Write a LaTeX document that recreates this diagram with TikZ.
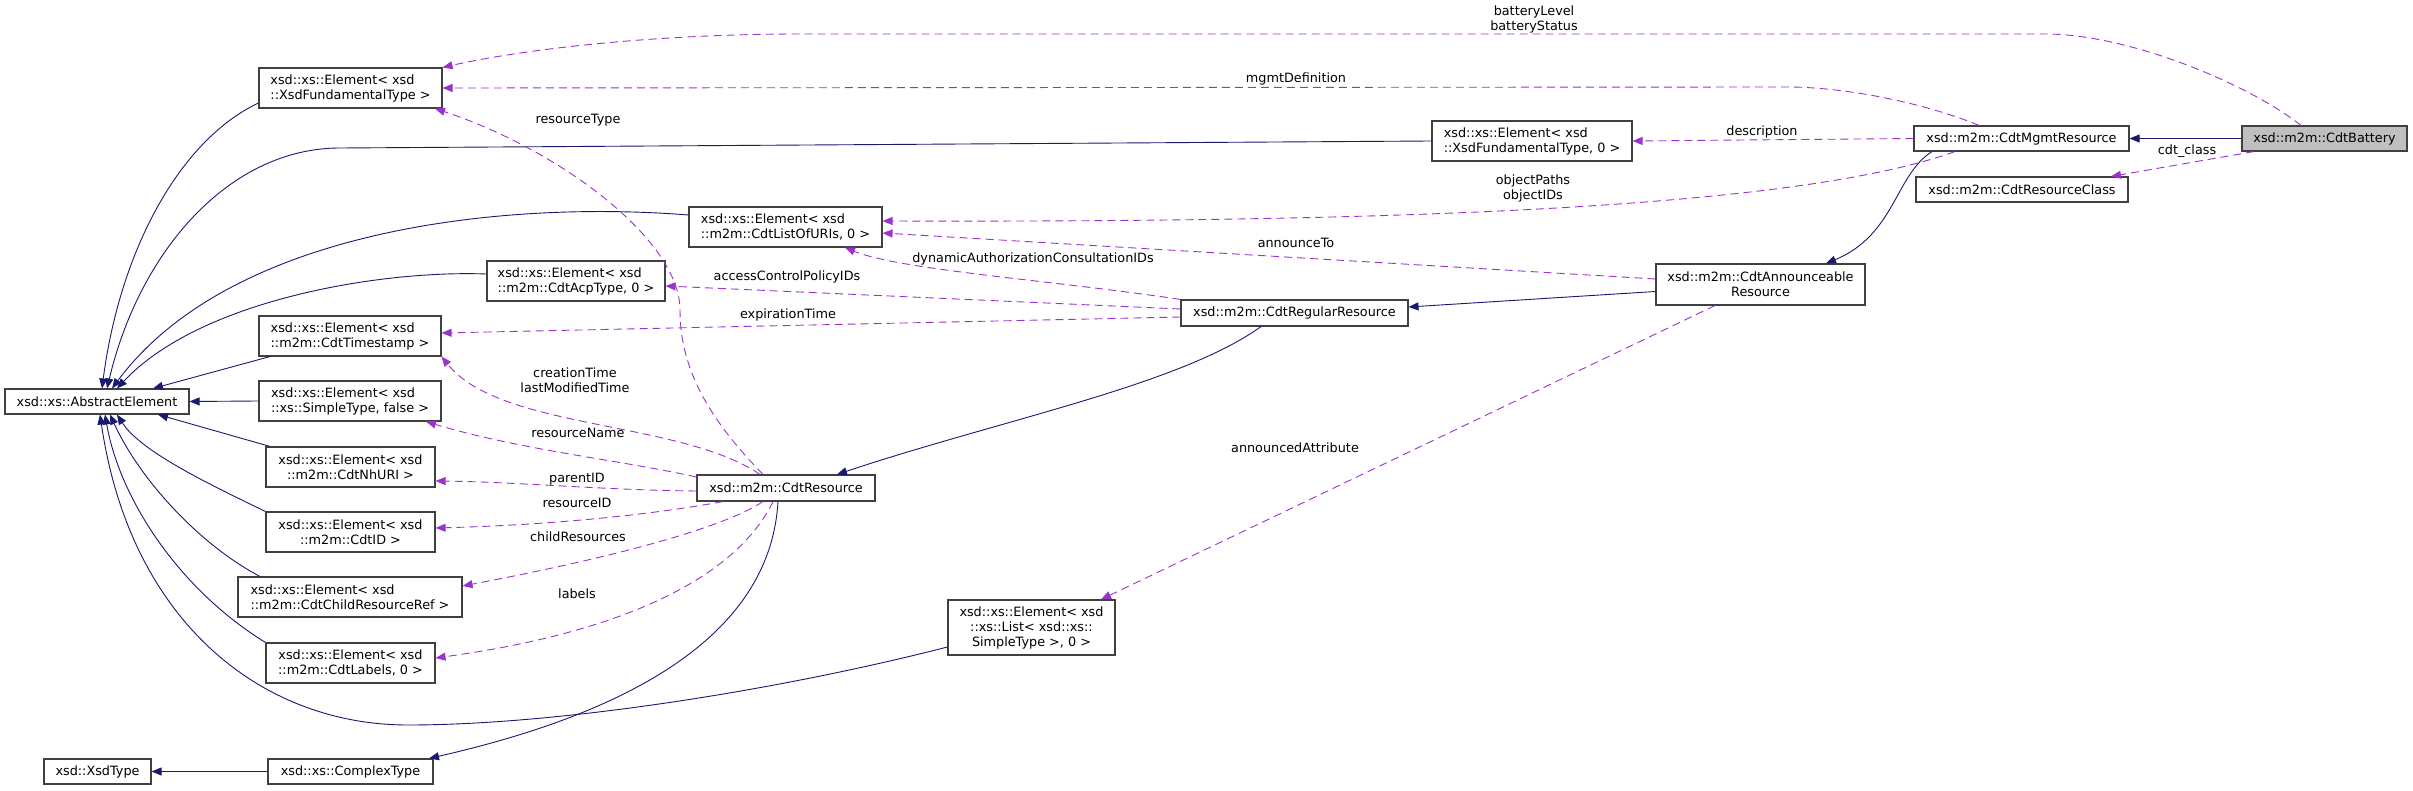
\documentclass[tikz,border=0pt]{standalone}
\usepackage{fontspec}
\setmainfont{DejaVu Sans}
\usetikzlibrary{arrows.meta}
\definecolor{boxline}{HTML}{404040}
\definecolor{inherit}{HTML}{191970}
\definecolor{member}{HTML}{9A32CD}
\definecolor{focus}{HTML}{BFBFBF}
\newcommand{\cls}[6][]{%
  \node[draw=boxline,line width=1.1pt,fill=white,inner sep=0pt,
        minimum width=#4pt,minimum height=#5pt,align=center,
        font=\fontsize{12.8}{15}\selectfont,#1]
       (#2) at #3 {#6};}

\begin{document}
\begin{tikzpicture}[x=1pt,y=-1pt]
  \useasboundingbox (0,0) rectangle (2413,791);

  % The class and what it derives from.
  \cls[fill=focus]{battery}{(2324.5,138.5)}{165}{25}{xsd::m2m::CdtBattery}
  \cls{mgmt}{(2021.5,138.5)}{215}{25}{xsd::m2m::CdtMgmtResource}
  \cls{resclass}{(2022,189.5)}{212}{25}{xsd::m2m::CdtResourceClass}
  \cls{announce}{(1760.5,284.5)}{209}{41}{xsd::m2m::CdtAnnounceable\\Resource}
  \cls{regular}{(1294.5,313)}{227}{26}{xsd::m2m::CdtRegularResource}
  \cls{resource}{(786,488)}{178}{26}{xsd::m2m::CdtResource}
  \cls{complex}{(350.5,771.5)}{165}{25}{xsd::xs::ComplexType}
  \cls{xsdtype}{(97.5,771.5)}{107}{25}{xsd::XsdType}
  % Element templates
  \cls[align=left]{xsdfund0}{(1532,141)}{200}{40}{xsd::xs::Element< xsd\\::XsdFundamentalType, 0 >}
  \cls{list}{(1031.5,627.5)}{167}{55}{xsd::xs::Element< xsd\\::xs::List< xsd::xs::\\SimpleType >, 0 >}
  \cls[align=left]{listuris}{(785.5,227)}{193}{40}{xsd::xs::Element< xsd\\::m2m::CdtListOfURIs, 0 >}
  \cls[align=left]{acp}{(576,281)}{178}{40}{xsd::xs::Element< xsd\\::m2m::CdtAcpType, 0 >}
  \cls[align=left]{xsdfund}{(350.5,88)}{183}{40}{xsd::xs::Element< xsd\\::XsdFundamentalType >}
  \cls[align=left]{timestamp}{(350,336)}{182}{40}{xsd::xs::Element< xsd\\::m2m::CdtTimestamp >}
  \cls[align=left]{simple}{(350,401)}{182}{40}{xsd::xs::Element< xsd\\::xs::SimpleType, false >}
  \cls{nhuri}{(350.5,467)}{169}{40}{xsd::xs::Element< xsd\\::m2m::CdtNhURI >}
  \cls{cdtid}{(350.5,532)}{169}{40}{xsd::xs::Element< xsd\\::m2m::CdtID >}
  \cls[align=left]{childref}{(350,597)}{224}{40}{xsd::xs::Element< xsd\\::m2m::CdtChildResourceRef >}
  \cls{labels}{(350.5,663)}{169}{40}{xsd::xs::Element< xsd\\::m2m::CdtLabels, 0 >}
  \cls{abstract}{(97,401.5)}{184}{25}{xsd::xs::AbstractElement}

  % Inheritance
  \begin{scope}[-{Triangle[length=10pt,width=8pt]},inherit,line width=0.9pt]
    \draw (battery.west) -- (mgmt.east);
    \draw ([xshift=-89.5pt]mgmt.south) .. controls (1895,175) and (1895,235) .. ([xshift=65.5pt]announce.north);
    \draw ([yshift=-7pt]announce.west) -- ([yshift=6pt]regular.east);
    \draw ([xshift=-33.5pt]regular.south) .. controls (1180,385) and (1000,420) .. ([xshift=51pt]resource.north);
    \draw ([xshift=-8pt]resource.south) .. controls (770,640) and (620,715) .. ([xshift=78.5pt]complex.north);
    \draw (complex.west) -- (xsdtype.east);
    \draw ([yshift=-15pt]xsdfund.west) .. controls (180,140) and (120,250) .. ([xshift=5pt]abstract.north);
    \draw (xsdfund0.west) -- (340,148) .. controls (230,148) and (140,250) .. ([xshift=10pt]abstract.north);
    \draw ([yshift=12pt]listuris.west) .. controls (500,200) and (230,230) .. ([xshift=15pt]abstract.north);
    \draw ([yshift=7pt]acp.west) .. controls (380,270) and (200,300) .. ([xshift=20pt]abstract.north);
    \draw ([xshift=-80pt]timestamp.south) -- ([xshift=56pt]abstract.north);
    \draw (simple.west) -- (abstract.east);
    \draw ([xshift=-80.5pt]nhuri.north) -- ([xshift=61pt]abstract.south);
    \draw (cdtid.north west) .. controls (200,480) and (140,450) .. ([xshift=20pt]abstract.south);
    \draw ([xshift=-90pt]childref.north) .. controls (200,545) and (140,480) .. ([xshift=13pt]abstract.south);
    \draw (labels.north west) .. controls (180,590) and (120,500) .. ([xshift=8pt]abstract.south);
    \draw ([yshift=-19.5pt]list.west) .. controls (780,690) and (560,725) .. (408,725)
          .. controls (260,725) and (130,620) .. ([xshift=3pt]abstract.south);
  \end{scope}

  % Members
  \begin{scope}[-{Triangle[length=10pt,width=8pt]},member,line width=0.9pt,dash pattern=on 8pt off 5pt]
    \draw ([xshift=-23.5pt]battery.north) .. controls (2250,85) and (2130,34) .. (2045,34) -- (800,34)
          .. controls (650,34) and (520,50) .. (xsdfund.north east);
    \draw ([xshift=-42.5pt]mgmt.north) .. controls (1930,105) and (1850,87) .. (1787,87) -- (xsdfund.east);
    \draw (mgmt.west) -- (xsdfund0.east);
    \draw ([xshift=-66.5pt]mgmt.south) .. controls (1780,215) and (1300,222) .. ([yshift=6pt]listuris.east);
    \draw ([xshift=-70.5pt]battery.south) -- ([xshift=89pt]resclass.north);
    \draw ([yshift=5.5pt]announce.west) -- ([yshift=-6pt]listuris.east);
    \draw ([xshift=-45.5pt]announce.south) -- ([xshift=69.5pt]list.north);
    \draw (regular.north west) .. controls (1050,280) and (900,270) .. ([xshift=59.5pt]listuris.south);
    \draw ([yshift=4pt]regular.west) -- ([yshift=-5pt]acp.east);
    \draw ([yshift=-4pt]regular.west) -- ([yshift=3pt]timestamp.east);
    \draw ([xshift=-23pt]resource.north) .. controls (710,420) and (680,370) .. (680,310)
          .. controls (680,240) and (560,150) .. ([xshift=84.5pt]xsdfund.south);
    \draw ([xshift=-26pt]resource.north) .. controls (680,420) and (500,430) .. (timestamp.south east);
    \draw ([yshift=11pt]resource.west) .. controls (620,460) and (520,450) .. ([xshift=76pt]simple.south);
    \draw ([yshift=-3pt]resource.west) .. controls (600,490) and (520,482) .. ([yshift=-14pt]nhuri.east);
    \draw ([xshift=-63pt]resource.south) .. controls (650,515) and (550,525) .. ([yshift=4pt]cdtid.east);
    \draw ([xshift=-23pt]resource.south) .. controls (720,530) and (600,560) .. ([yshift=11pt]childref.east);
    \draw ([xshift=-13pt]resource.south) .. controls (740,570) and (640,630) .. ([yshift=5pt]labels.east);
  \end{scope}

  % Member names
  \foreach \n/\x/\y/\t in {lbBattery/1534/19.5/{batteryLevel\\batteryStatus},
      lbMgmtDef/1296/79/mgmtDefinition, lbDescr/1762/132/description,
      lbObject/1533/188.5/{objectPaths\\objectIDs}, lbClass/2187/151/cdt\_class,
      lbAnnTo/1296/243/announceTo, lbDynAuth/1033/259/dynamicAuthorizationConsultationIDs,
      lbAccess/787/277/accessControlPolicyIDs, lbExpire/788/315/expirationTime,
      lbResType/578/120/resourceType, lbCreate/575/380/{creationTime\\lastModifiedTime},
      lbResName/578/433/resourceName, lbParent/577/479/parentID,
      lbResID/577/503/resourceID, lbChild/578/537/childResources,
      lbLabels/577/594/labels, lbAnnAttr/1295/448/announcedAttribute}{
    \node[font=\fontsize{12.8}{15}\selectfont,align=center,inner sep=0pt] (\n) at (\x,\y) {\t};}
\end{tikzpicture}
\end{document}
